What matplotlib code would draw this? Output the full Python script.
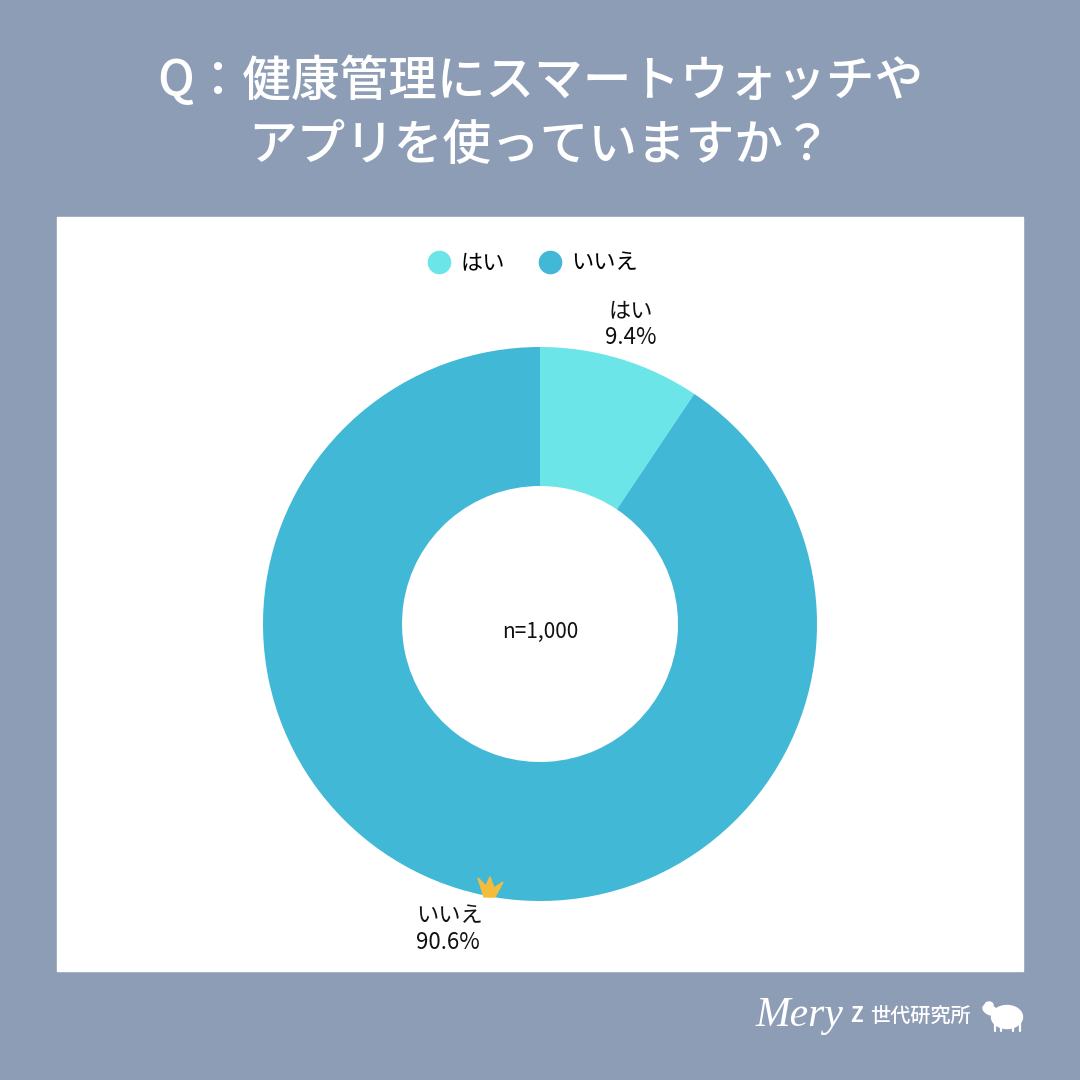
import matplotlib.pyplot as plt
from matplotlib.lines import Line2D
from matplotlib.patches import Ellipse, Polygon, Rectangle

plt.rcParams['font.family'] = ['Noto Sans CJK JP', 'DejaVu Sans']

title_lines = ['Q：健康管理にスマートウォッチや', 'アプリを使っていますか？']
categories = ['はい', 'いいえ']
values = [9.4, 90.6]
colors = ['#6CE5E8', '#41B8D5']
sample_label = 'n=1,000'
bg = '#8E9DB6'

fig = plt.figure(figsize=(10.8, 10.8), dpi=100, facecolor=bg)
ax = fig.add_axes([0, 0, 1, 1])

# pixel coordinates, y counted from the top as in the picture
ax.add_patch(Rectangle((57, 217), 966, 754, color='white', zorder=0))

wedges, _ = ax.pie(values, colors=colors, startangle=90, counterclock=False,
                   center=(540, 624), radius=277,
                   wedgeprops={'width': 139, 'linewidth': 0})
for w in wedges:
    w.set_zorder(1)

ax.set_xlim(0, 1080)
ax.set_aspect('equal')
ax.axis('off')
# y axis runs downward, so flip the wedge angles back by hand
ax.set_ylim(1080, 0)
for w in wedges:
    w.set_center((540, 624))
    t1, t2 = w.theta1, w.theta2
    w.set_theta1(-t2)
    w.set_theta2(-t1)

for i, line in enumerate(title_lines):
    ax.text(540, 82 + i * 64, line, color='white', fontsize=35, weight='medium',
            ha='center', va='center')

# legend
handles = [Line2D([], [], marker='o', linestyle='', markersize=16, color=c) for c in colors]
leg = ax.legend(handles, categories, ncol=2, frameon=False, fontsize=16,
                loc='center', bbox_to_anchor=(532, 263), bbox_transform=ax.transData,
                columnspacing=1.45, handletextpad=0.35, handlelength=1.2)

# data labels
ax.text(631, 324, f'{categories[0]}\n{values[0]}%', fontsize=16, ha='center', va='center',
        linespacing=1.2, color='#111111')
ax.text(416, 929, f'{categories[1]}\n{values[1]}%', fontsize=16, ha='left', va='center',
        linespacing=1.2, color='#111111')
ax.text(540, 632, sample_label, fontsize=15, ha='center', va='center', color='#111111')

# crown
ax.add_patch(Polygon([(484, 897), (478, 878), (486, 886), (490, 877), (494, 888),
                      (503, 882), (495, 897)], closed=True, color='#F5BC3C', zorder=3))

# footer logo
ax.text(755, 1016, 'Mery', color='white', fontsize=30, style='italic',
        family='Liberation Serif', ha='left', va='center')
ax.text(850, 1016, 'Z', color='white', fontsize=15, weight='bold', ha='left', va='center')
ax.text(870, 1016, '世代研究所', color='white', fontsize=14.5, weight='medium', ha='left', va='center')

# sheep
ax.add_patch(Ellipse((1007, 1017), 31, 23, color='white'))
ax.add_patch(Ellipse((990, 1010), 15, 9, angle=25, color='white'))
ax.add_patch(Ellipse((989, 1005), 8, 6, color='white'))
for x in [995, 1001, 1013, 1020]:
    ax.plot([x, x], [1022, 1031], color='white', lw=1.6, solid_capstyle='round')

fig.savefig('out.png', dpi=100, facecolor=bg)
